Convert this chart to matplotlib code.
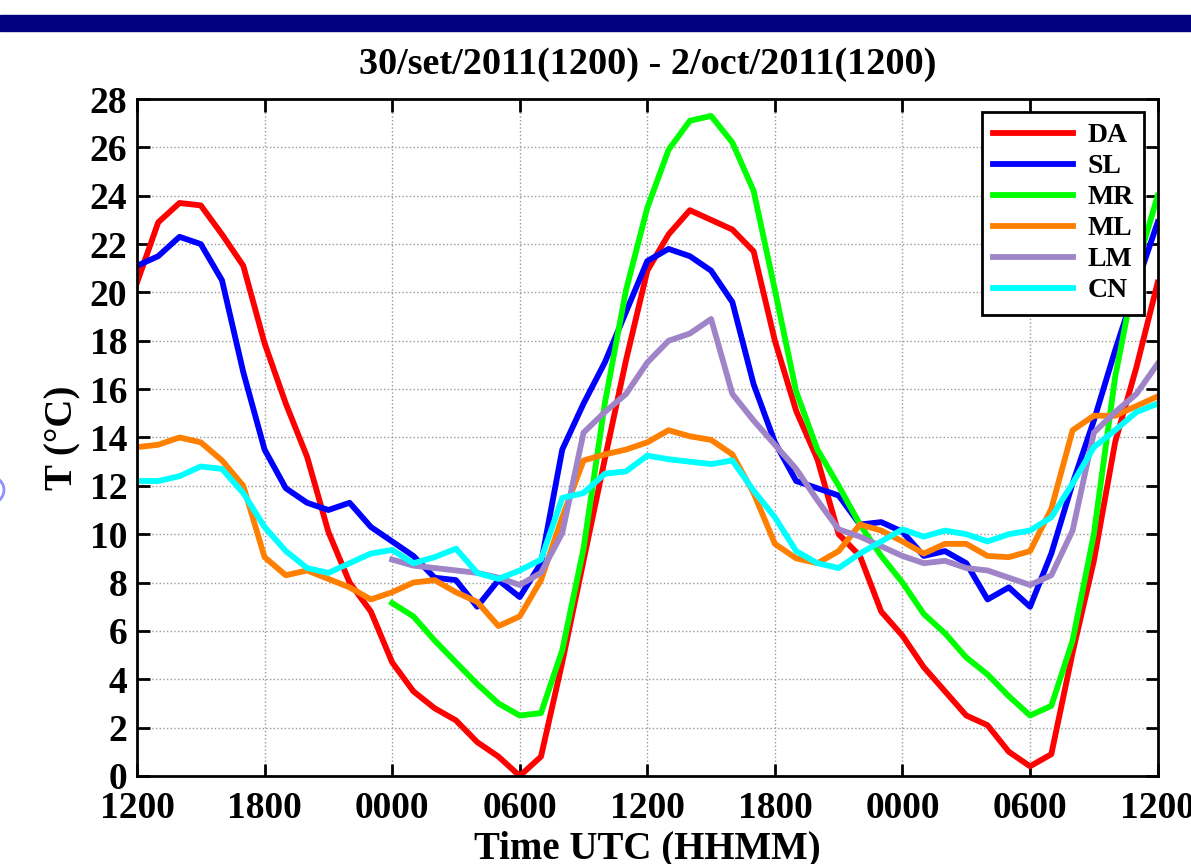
import numpy as np
import matplotlib
matplotlib.use('Agg')
from matplotlib import pyplot as plt
from matplotlib.patches import Rectangle, Circle

plt.rcParams['font.family'] = ['Liberation Serif', 'DejaVu Serif']
plt.rcParams['font.weight'] = 'bold'

hours = np.arange(49)
tick_hours = [0, 6, 12, 18, 24, 30, 36, 42, 48]
tick_labels = ['1200', '1800', '0000', '0600', '1200', '1800', '0000', '0600', '1200']

nan = np.nan
DA = [20.4, 22.9, 23.7, 23.6, 22.4, 21.1, 17.9, 15.4, 13.2, 10.1, 8.0, 6.8,
      4.7, 3.5, 2.8, 2.3, 1.4, 0.8, 0.0, 0.8, 4.7, 8.9, 13.1, 17.2,
      20.9, 22.4, 23.4, 23.0, 22.6, 21.7, 18.0, 15.1, 13.1, 10.0, 9.1, 6.8,
      5.8, 4.5, 3.5, 2.5, 2.1, 1.0, 0.4, 0.9, 5.1, 8.9, 13.8, 16.9, 20.4]
SL = [21.1, 21.5, 22.3, 22.0, 20.5, 16.7, 13.5, 11.9, 11.3, 11.0, 11.3, 10.3,
      9.7, 9.1, 8.2, 8.1, 7.0, 8.1, 7.4, 8.8, 13.5, 15.4, 17.1, 19.2,
      21.3, 21.8, 21.5, 20.9, 19.6, 16.2, 13.8, 12.2, 11.9, 11.6, 10.4, 10.5,
      10.1, 9.1, 9.3, 8.8, 7.3, 7.8, 7.0, 9.2, 12.1, 14.7, 17.6, 20.3, 22.9]
MR = [nan] * 12 + [
      7.15, 6.6, 5.6, 4.7, 3.8, 3.0, 2.5, 2.6, 5.2, 9.4, 15.4, 20.1,
      23.5, 25.9, 27.1, 27.3, 26.2, 24.2, 20.1, 15.9, 13.5, 12.0, 10.4, 9.1,
      8.0, 6.7, 5.9, 4.9, 4.2, 3.3, 2.5, 2.9, 5.6, 10.0, 16.5, 21.0, 24.0]
ML = [13.6, 13.7, 14.0, 13.8, 13.05, 12.0, 9.05, 8.3, 8.5, 8.15, 7.8, 7.3,
      7.6, 8.0, 8.1, 7.6, 7.2, 6.2, 6.6, 8.1, 10.7, 13.05, 13.3, 13.5,
      13.8, 14.3, 14.05, 13.9, 13.3, 11.7, 9.6, 9.0, 8.8, 9.3, 10.4, 10.15,
      9.7, 9.2, 9.6, 9.6, 9.1, 9.05, 9.3, 11.05, 14.3, 14.9, 14.9, 15.3, 15.7]
LM = [nan] * 12 + [
      8.95, 8.7, 8.6, 8.5, 8.4, 8.2, 7.9, 8.4, 10.05, 14.2, 15.05, 15.8,
      17.1, 18.0, 18.3, 18.9, 15.8, 14.7, 13.7, 12.7, 11.4, 10.2, 9.9, 9.5,
      9.1, 8.8, 8.9, 8.6, 8.5, 8.2, 7.9, 8.3, 10.15, 14.2, 15.05, 15.8, 17.05]
CN = [12.2, 12.2, 12.4, 12.8, 12.7, 11.7, 10.3, 9.3, 8.6, 8.4, 8.8, 9.2,
      9.35, 8.8, 9.05, 9.4, 8.4, 8.15, 8.5, 8.95, 11.5, 11.7, 12.5, 12.6,
      13.25, 13.1, 13.0, 12.9, 13.05, 11.8, 10.7, 9.3, 8.8, 8.6, 9.2, 9.7,
      10.2, 9.9, 10.15, 10.0, 9.7, 10.0, 10.15, 10.7, 12.1, 13.6, 14.3, 15.05, 15.4]

names = ['DA', 'SL', 'MR', 'ML', 'LM', 'CN']
series = [DA, SL, MR, ML, LM, CN]
colors = ['#ff0000', '#0000ff', '#00ff00', '#ff8000', '#a084c8', '#00ffff']

fig = plt.figure(figsize=(11.91, 8.64), dpi=100)
ax = fig.add_axes([0.115, 0.1019, 0.857, 0.7835])

# slide header bar and decoration
fig.patches.append(Rectangle((0, 1 - 31 / 864), 1, 16 / 864, transform=fig.transFigure,
                             color='#000080', zorder=0))
fig.patches.append(Circle((-20 / 1191, 1 - 490 / 864), 24 / 1191, transform=fig.transFigure,
                          fill=False, edgecolor='#9090ff', linewidth=2))

for vals, name, c in zip(series, names, colors):
    ax.plot(hours, vals, color=c, linewidth=4.2, label=name)

ax.set_xlim(0, 48)
ax.set_ylim(0, 28)
ax.set_xticks(tick_hours)
ax.set_xticklabels(tick_labels)
ax.set_yticks(np.arange(0, 29, 2))
ax.tick_params(direction='in', top=True, right=True, length=9, width=2,
               labelsize=27)
ax.tick_params(axis='x', pad=11)
ax.tick_params(axis='y', pad=7)
for s in ax.spines.values():
    s.set_linewidth(2)
ax.grid(True, linestyle=':', color='#999999', linewidth=1)
ax.set_axisbelow(True)

ax.set_title('30/set/2011(1200) - 2/oct/2011(1200)', fontsize=27.5, fontweight='bold', pad=18)
ax.set_ylabel('T (\u00b0C)', fontsize=28, fontweight='bold', labelpad=6)
ax.set_xlabel('Time UTC (HHMM)', fontsize=28, fontweight='bold', labelpad=3)

leg = ax.legend(loc='upper right', bbox_to_anchor=(0.987, 0.981), fontsize=20,
                handlelength=2.9, labelspacing=0.2, fancybox=False, framealpha=1,
                edgecolor='black', borderaxespad=0, handletextpad=0.5)
leg.get_frame().set_linewidth(2)

fig.savefig('out.png', dpi=100)
